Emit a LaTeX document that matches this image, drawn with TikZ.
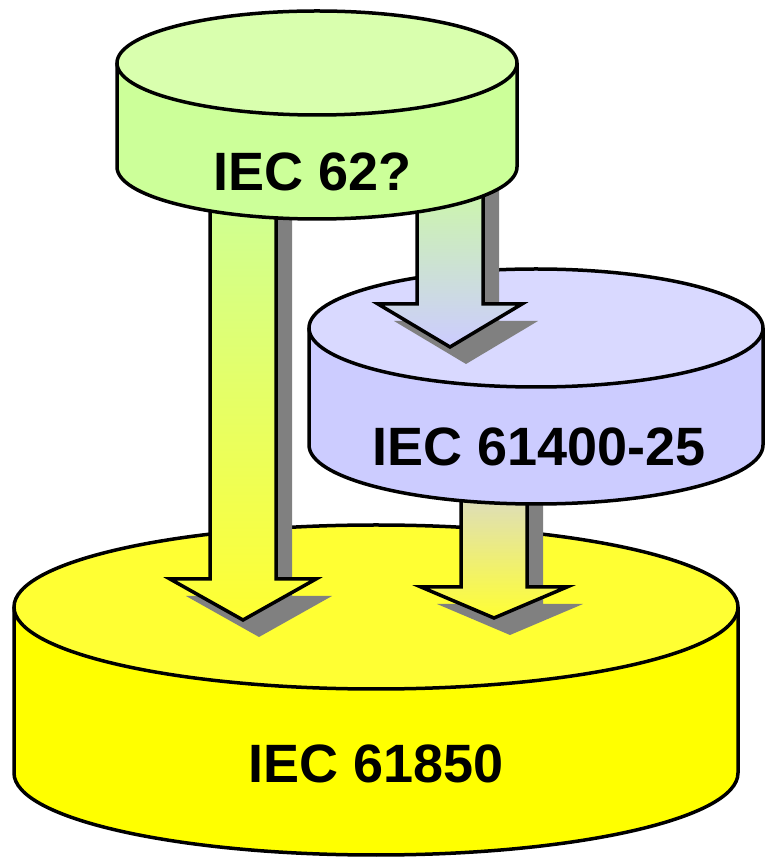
\documentclass[tikz,border=0pt]{standalone}
\usepackage{fontspec}
\setmainfont{Liberation Sans}
\usetikzlibrary{shapes.geometric}
\usetikzlibrary{shadows}
\usetikzlibrary{calc}
\usepackage{color}
\definecolor{iecGreen}{RGB}{204, 255, 153}
\definecolor{iecGreenTop}{RGB}{217, 255, 174}
\definecolor{iecBlue}{RGB}{204, 204, 255}
\definecolor{iecBlueTop}{RGB}{217, 217, 255}
\definecolor{iecYellow}{RGB}{255, 255, 0}
\definecolor{iecYellowTop}{RGB}{255, 255, 51}
\definecolor{iecShadow}{RGB}{128, 128, 128}

\begin{document}
\begin{tikzpicture} [
    x=1pt, y=1pt,
    disktop/.style    = { ellipse, draw=black, line width=3.5pt,
                          inner sep=0pt, outer sep=0pt},
    diskside/.style   = { draw=black, line width=3.5pt},
    stdname/.style    = { text=black, inner sep=0pt,
                          font=\bfseries\fontsize{54}{60}\selectfont},
    blockarrow/.style = { draw=black, line width=3.5pt,
                          drop shadow={shadow xshift=16pt, shadow yshift=-17pt,
                                       fill=iecShadow, opacity=1}},
  ]

\useasboundingbox (0,0) rectangle (764,857);

%Anfang und Spitze der Pfeile
\coordinate (a1s) at (243,680);
\coordinate (a1t) at (243,237);
\coordinate (a2s) at (450,700);
\coordinate (a2t) at (450,510);
\coordinate (a3s) at (494,420);
\coordinate (a3t) at (494,239);

%Scheibe unten (IEC 61850)
\path[diskside, fill=iecYellow] (14,250) -- (14,84)
    arc[start angle=180, end angle=360, x radius=362, y radius=82] -- (738,250);
\node[disktop, fill=iecYellowTop, minimum width=724pt, minimum height=164pt]
    (top61850) at (376,250) {};
\node[stdname] (std61850) at (376,93) {IEC 61850};

%Pfeile auf IEC 61850
\path[blockarrow, top color=iecGreen, bottom color=iecYellowTop]
    ($(a1s)+(-33,0)$) -- ($(a1t)+(-33,41)$) -- ($(a1t)+(-73,41)$) -- (a1t)
    -- ($(a1t)+(73,41)$) -- ($(a1t)+(33,41)$) -- ($(a1s)+(33,0)$) -- cycle;
\path[blockarrow, top color=iecBlue, bottom color=iecYellowTop]
    ($(a3s)+(-33,0)$) -- ($(a3t)+(-33,31)$) -- ($(a3t)+(-73,31)$) -- (a3t)
    -- ($(a3t)+(73,31)$) -- ($(a3t)+(33,31)$) -- ($(a3s)+(33,0)$) -- cycle;

%Scheibe mitte (IEC 61400-25)
\path[diskside, fill=iecBlue] (309,529) -- (309,412)
    arc[start angle=180, end angle=360, x radius=227, y radius=59] -- (763,529);
\node[disktop, fill=iecBlueTop, minimum width=454pt, minimum height=118pt]
    (top61400) at (536,529) {};
\node[stdname] (std61400) at (539,410) {IEC 61400-25};

%Pfeil auf IEC 61400-25
\path[blockarrow, top color=iecGreen, bottom color=iecBlue]
    ($(a2s)+(-33,0)$) -- ($(a2t)+(-33,43)$) -- ($(a2t)+(-72,43)$) -- (a2t)
    -- ($(a2t)+(72,43)$) -- ($(a2t)+(33,43)$) -- ($(a2s)+(33,0)$) -- cycle;

%Scheibe oben (IEC 62?)
\path[diskside, fill=iecGreen] (117,794) -- (117,690)
    arc[start angle=180, end angle=360, x radius=200, y radius=52] -- (517,794);
\node[disktop, fill=iecGreenTop, minimum width=400pt, minimum height=104pt]
    (top62) at (317,794) {};
\node[stdname] (std62) at (313,685) {IEC 62?};
\end{tikzpicture}
\end{document}
